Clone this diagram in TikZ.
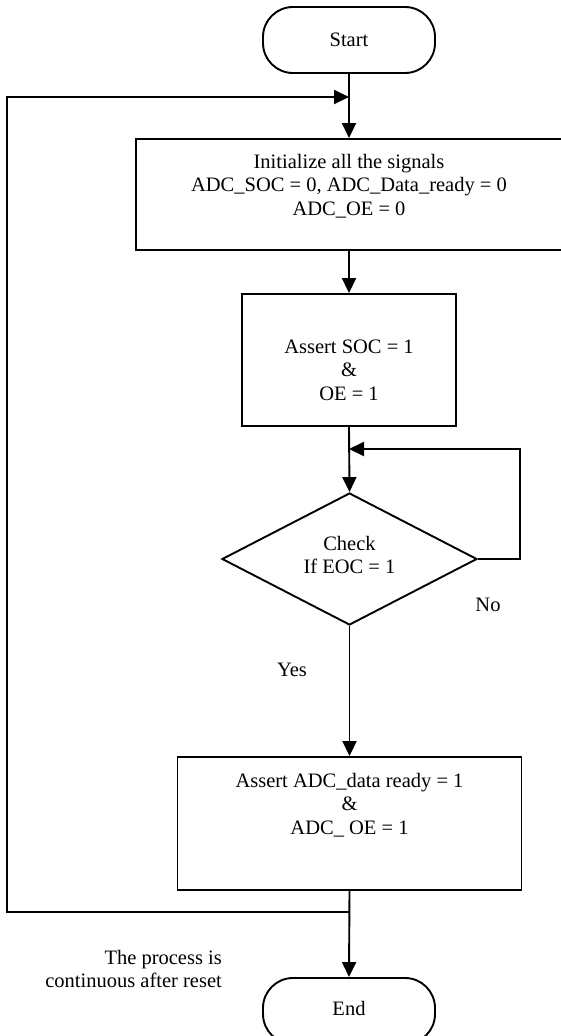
\documentclass[tikz,border=0pt]{standalone}
\usepackage{fontspec}
\setmainfont{Liberation Serif}
\usetikzlibrary{shapes.geometric,arrows.meta}
\begin{document}
\begin{tikzpicture}[x=1pt,y=-1pt,
  every node/.style={font=\fontsize{20.5}{23.5}\selectfont, inner sep=0pt},
  lw/.style={line width=1.9pt},
  term/.style={draw, lw, rounded corners=30pt, minimum width=172pt, minimum height=66pt},
  proc/.style={draw, lw},
  dec/.style={draw, lw, diamond, minimum width=255pt, minimum height=132pt},
  txt/.style={align=center},
  arr/.style={lw, -{Triangle[length=15pt,width=14pt]}},
  ln/.style={lw}]
\useasboundingbox (0,0) rectangle (560,1036);
% terminals
\node[term] (start) at (349,40) {Start};
\node[term] (end) at (349,1011) {};
\node (endT) at (349,1008) {End};
% process boxes
\node[proc, minimum width=426pt, minimum height=111pt] (init) at (349,194.5) {};
\node[txt] (initT) at (349,186) {Initialize all the signals\\ADC\_SOC = 0, ADC\_Data\_ready = 0\\ADC\_OE = 0};
\node[proc, minimum width=214pt, minimum height=132pt] (soc) at (349,360) {};
\node[txt] (socT) at (349,370) {Assert SOC = 1\\\&\\OE = 1};
\node[dec] (chk) at (349.5,559) {};
\node[txt] (chkT) at (349.5,555) {Check\\If EOC = 1};
\node[proc, minimum width=344pt, minimum height=133pt] (final) at (349.5,823.5) {};
\node[txt] (finalT) at (349.5,805) {Assert ADC\_data ready = 1\\\&\\ADC\_ OE = 1};
% labels
\node (no) at (488,605) {No};
\node (yes) at (292,670) {Yes};
\node[align=right, anchor=east] (note) at (222,969) {The process is\\continuous after reset};
% junction coordinates
\coordinate (jtop) at (349,97);
\coordinate (jmid) at (349,449);
\coordinate (jbot) at (349,912);
\coordinate (lx) at (7,97);
\coordinate (rx) at (520,449);
% connectors
\draw[arr] (start.south) -- (init.north);
\draw[arr] (init.south) -- (soc.north);
\draw[arr] (soc.south) -- (chk.north);
\draw[arr] (chk.south) -- (final.north);
\draw[arr] (final.south) -- (end.north);
\draw[arr] (chk.east) -| (rx) -- (jmid);
\draw[arr] (jbot) -| (lx) -- (jtop);
\end{tikzpicture}
\end{document}
